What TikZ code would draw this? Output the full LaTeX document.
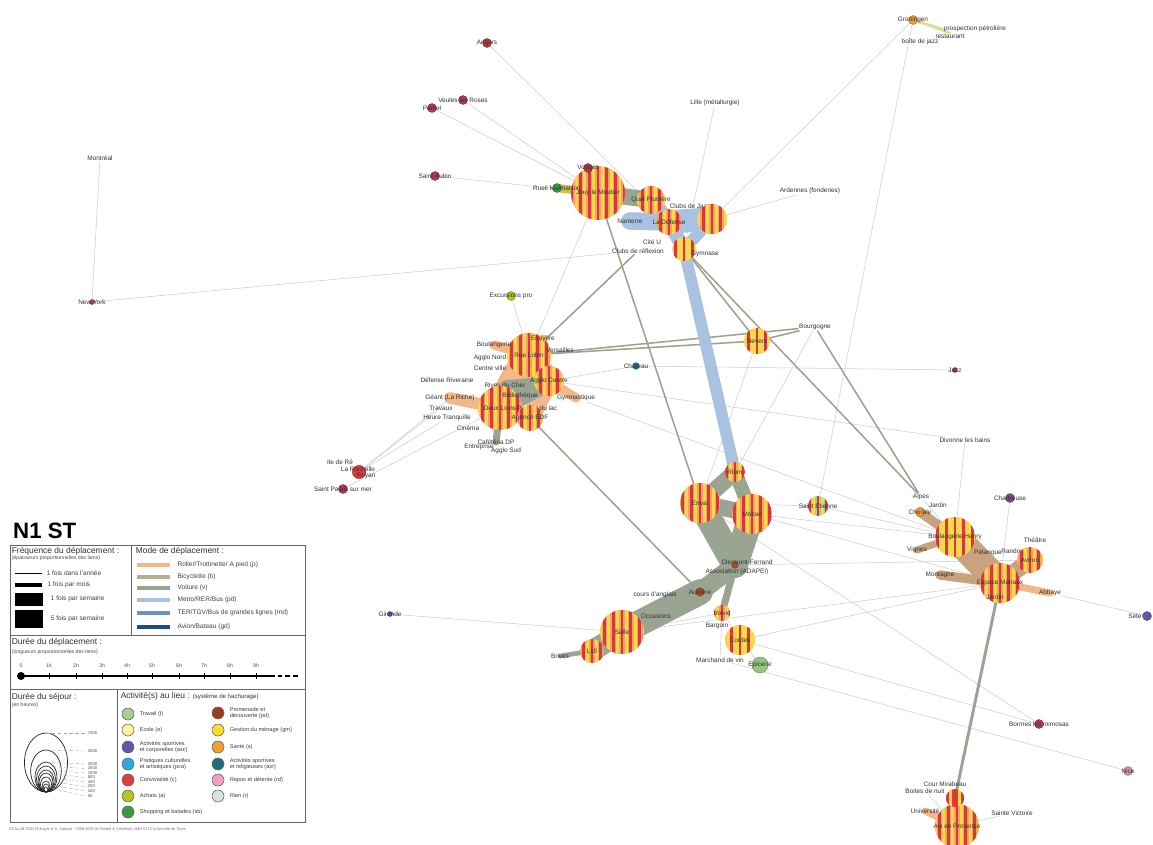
\documentclass[tikz,border=0pt]{standalone}
\usepackage{fontspec}
\setmainfont{Liberation Sans}
\usetikzlibrary{positioning,backgrounds}

% Colores
\definecolor{pied}{HTML}{F2B88A}
\definecolor{velo}{HTML}{BDAB90}
\definecolor{voiture}{HTML}{99A493}
\definecolor{metro}{HTML}{A9C2E2}
\definecolor{ter}{HTML}{6F92C6}
\definecolor{avion}{HTML}{1E4B84}
\definecolor{rayrouge}{HTML}{D9363E}
\definecolor{rayjaune}{HTML}{F5D84C}
\definecolor{rayorange}{HTML}{F0A45C}
\definecolor{brique}{HTML}{B33B4B}
\definecolor{lien}{HTML}{CDCDCD}
\definecolor{lienfort}{HTML}{9FA08E}
\definecolor{terre}{HTML}{C9A27E}
\definecolor{travail}{HTML}{A8D08D}
\definecolor{ecole}{HTML}{FFF3A0}
\definecolor{asc}{HTML}{5A5AA8}
\definecolor{pca}{HTML}{2AA8E0}
\definecolor{conv}{HTML}{E03C3C}
\definecolor{achats}{HTML}{B5C42A}
\definecolor{shop}{HTML}{3C9A3C}
\definecolor{prom}{HTML}{9A3A1E}
\definecolor{menage}{HTML}{F5E030}
\definecolor{sante}{HTML}{F0A030}
\definecolor{asr}{HTML}{1E6E78}
\definecolor{repos}{HTML}{F0A0C0}
\definecolor{rien}{HTML}{D8E4E0}

\tikzset{
  lbl/.style={font=\fontsize{5.5}{6}\selectfont, text=black!80, inner sep=0.5pt},
  leg/.style={font=\fontsize{5.6}{6.4}\selectfont, text=black!75, inner sep=0.5pt, anchor=west, align=left},
  legtit/.style={font=\fontsize{7.2}{8}\selectfont, text=black!80, inner sep=0.5pt, anchor=west},
  legsub/.style={font=\fontsize{4.4}{5}\selectfont, text=black!70, inner sep=0.5pt, anchor=west},
  spot/.style={circle, inner sep=0pt, minimum size=0.27cm, fill=#1, draw=#1!60!black, line width=0.3pt},
  spot/.default=brique,
  rayas/.style={circle, inner sep=0pt, minimum size=2*#1*0.03cm, fill=rayorange,
    path picture={
      \foreach \k in {-6,...,6}{
        \fill[rayrouge] ([xshift=\k*7.5pt-1.2pt]path picture bounding box.south) rectangle ([xshift=\k*7.5pt+1.2pt]path picture bounding box.north);
        \fill[rayjaune] ([xshift=\k*7.5pt+2.5pt]path picture bounding box.south) rectangle ([xshift=\k*7.5pt+5pt]path picture bounding box.north);
      }}},
  act/.style={circle, inner sep=0pt, minimum size=0.36cm, fill=#1, draw=black!60, line width=0.5pt},
  fino/.style={draw=lien, line width=0.45pt},
  medio/.style={draw=lienfort, line width=1.3pt},
  apie/.style={draw=pied, line width=#1, line cap=round},
  bici/.style={draw=terre, line width=#1, line cap=round},
  coche/.style={draw=voiture, line width=#1, line cap=round, line join=round},
  metrob/.style={draw=metro, line width=#1, line cap=round},
  marco/.style={draw=black!60, line width=0.6pt},
}

\begin{document}
\begin{tikzpicture}[x=0.03cm, y=-0.03cm]
  \useasboundingbox (0,0) rectangle (1153,845);

  % Nodos: nord
  \node[spot, label={[lbl]center:Angers}] (angers) at (487,43) {};
  \node[spot, label={[lbl]center:Veules les Roses}] (veules) at (463,100) {};
  \node[spot, label={[lbl]center:Pamel}] (pamel) at (432,108) {};
  \node[lbl] (lille) at (715,103) {Lille (métallurgie)};
  \node[lbl] (montreal) at (100,158) {Montréal};
  \node[spot, label={[lbl]center:Saint Aubin}] (staubin) at (435,176) {};
  \node[spot, minimum size=0.15cm, label={[lbl]center:New York}] (newyork) at (92,302) {};
  \node[spot=sante, label={[lbl]center:Groningen}] (gron) at (913,20) {};
  \node[lbl] (petrole) at (975,29) {prospection pétrolière};
  \node[lbl] (resto) at (950,36) {restaurant};
  \node[lbl] (jazzbox) at (920,42) {boîte de jazz};
  \node[lbl] (ardennes) at (810,191) {Ardennes (fonderies)};

  % Nodos: Paris
  \node[rayas=27, label={[lbl]center:Jouy le Moutier}] (tours) at (598,193) {};
  \node[spot, label={[lbl]center:Vosges}] (vosges) at (588,168) {};
  \node[spot=shop, label={[lbl]center:Rueil Malmaison}] (rueil) at (557,188) {};
  \node[rayas=14, label={[lbl]center:Quai Plumère}] (quai) at (651,200) {};
  \node[lbl] (clubsjazz) at (690,206) {Clubs de Jazz};
  \node[rayas=15] (esplanade) at (712,219) {};
  \node[rayas=13, label={[lbl]center:La Défense}] (ladef) at (669,222) {};
  \node[lbl] (nanterre) at (630,221) {Nanterre};
  \node[lbl] (cite) at (652,242) {Cité U};
  \node[rayas=12, fill=rayjaune] (gym) at (684,249) {};
  \node[lbl] (clubref) at (638,251) {Clubs de réflexion};
  \node[lbl] (gymlbl) at (705,254) {Gymnase};

  % Nodos: Tours
  \node[spot=achats, label={[lbl]center:Excursions pro}] (excursions) at (511,296) {};
  \node[rayas=22, label={[lbl]center:Rue Lobin}] (ruelobin) at (529,355) {};
  \node[lbl] (ecuyere) at (543,339) {Ecuyère};
  \node[lbl] (versailles) at (560,350) {Versailles};
  \node[lbl] (boulangerie) at (494,345) {Boulangerie};
  \node[lbl] (agglonord) at (490,358) {Agglo Nord};
  \node[lbl] (centreville) at (490,368) {Centre ville};
  \node[rayas=15, label={[lbl]center:Agglo Centre}] (agglocentre) at (549,381) {};
  \node[lbl] (defense) at (447,380) {Défense Riveraine};
  \node[lbl] (rives) at (505,385) {Rives du Cher};
  \node[lbl] (geant) at (450,398) {Géant (La Riche)};
  \node[lbl] (travaux) at (441,408) {Travaux};
  \node[lbl] (heure) at (447,418) {Heure Tranquille};
  \node[lbl] (cinema) at (468,428) {Cinéma};
  \node[rayas=22, label={[lbl]center:Deux Lions}] (deuxlions) at (500,408) {};
  \node[lbl] (biblio) at (520,396) {Bibliothèque};
  \node[lbl] (gymnastique) at (576,398) {Gymnastique};
  \node[lbl] (piscine) at (537,408) {Piscine du lac};
  \node[rayas=13, label={[lbl]center:Agence EDF}] (edf) at (530,418) {};
  \node[lbl] (cafeteria) at (496,442) {Cafétéria DP};
  \node[lbl] (entreprise) at (479,447) {Entreprise};
  \node[lbl] (agglosud) at (506,451) {Agglo Sud};

  % Nodos: ouest
  \node[spot=conv, minimum size=0.4cm] (iledere) at (359,472) {};
  \node[lbl] (ilelbl) at (340,462) {Ile de Ré};
  \node[lbl] (rochelle) at (358,469) {La Rochelle};
  \node[lbl] (royan) at (366,476) {Royan};
  \node[spot, label={[lbl]center:Saint Palais sur mer}] (stpalais) at (343,489) {};
  \node[spot=asc, minimum size=0.15cm, label={[lbl]center:Gironde}] (gironde) at (390,614) {};

  % Nodos: centre
  \node[rayas=13, fill=rayjaune, label={[lbl]center:Nevers}] (nevers) at (757,341) {};
  \node[lbl] (bourgogne) at (815,327) {Bourgogne};
  \node[spot=pca!70!black, minimum size=0.2cm, label={[lbl]center:Château}] (chateau) at (636,366) {};
  \node[spot, minimum size=0.15cm, label={[lbl]center:Jazz}] (jazzt) at (955,370) {};
  \node[lbl] (divonne) at (965,440) {Divonne les bains};
  \node[lbl] (alpes) at (921,497) {Alpes};
  \node[spot=asc!60!brique, label={[lbl]center:Chartreuse}] (chartreuse) at (1010,498) {};
  \node[rayas=10, fill=travail, label={[lbl]center:Saint Etienne}] (stetienne) at (818,506) {};

  % Nodos: Auvergne
  \node[rayas=10, label={[lbl]center:Riom}] (riom) at (735,472) {};
  \node[rayas=20, label={[lbl]center:Enval}] (enval) at (700,503) {};
  \node[rayas=20, label={[lbl]center:Mozac}] (mozac) at (752,514) {};
  \node[spot=prom!80!sante, minimum size=0.2cm] (clermont) at (735,565) {};
  \node[lbl] (clermontlbl) at (747,562) {Clermont-Ferrand};
  \node[lbl] (adapei) at (737,572) {Association (ADAPEI)};
  \node[spot=prom!80!sante, minimum size=0.25cm, label={[lbl]center:Aubière}] (aubiere) at (700,592) {};
  \node[rayas=8, label={[lbl]center:Volvic}] (volvic) at (722,613) {};
  \node[lbl] (bargoin) at (717,626) {Bargoin};
  \node[rayas=15, fill=rayjaune, label={[lbl]center:Cordes}] (cordes) at (740,640) {};
  \node[lbl] (marchand) at (720,660) {Marchand de vin};
  \node[spot=travail!80!shop, minimum size=0.48cm, label={[lbl]center:Epicerie}] (epicerie) at (760,665) {};
  \node[lbl] (anglais) at (655,595) {cours d'anglais};
  \node[rayas=22, label={[lbl]center:Salle}] (salle) at (622,632) {};
  \node[lbl] (occasions) at (656,616) {Occasions};
  \node[rayas=12, label={[lbl]center:Lidl}] (lidl) at (592,651) {};
  \node[lbl] (brives) at (560,656) {Brives};

  % Nodos: Alpes
  \node[lbl] (jardina) at (938,505) {Jardin};
  \node[spot=sante, label={[lbl]center:Chorale}] (chorale) at (920,512) {};
  \node[rayas=20, fill=rayjaune, label={[lbl]center:Boulangerie Henry}] (boulhenry) at (955,537) {};
  \node[lbl] (vignes) at (917,550) {Vignes};
  \node[lbl] (petanque) at (988,553) {Pétanque};
  \node[lbl] (randonnee) at (1018,551) {Randonnée};
  \node[lbl] (theatrelbl) at (1035,540) {Théâtre};
  \node[rayas=13, label={[lbl]center:Aviron}] (theatre) at (1030,560) {};
  \node[lbl] (montagne) at (940,575) {Montagne};
  \node[rayas=20, label={[lbl]center:Espace Malraux}] (malraux) at (1000,583) {};
  \node[lbl] (jardinb) at (995,597) {Jardin};
  \node[lbl] (abbaye) at (1050,593) {Abbaye};
  \node[spot=asc, label={[lbl, anchor=east]west:Sète}] (sete) at (1147,616) {};
  \node[spot, label={[lbl]center:Bormes les mimosas}] (bormes) at (1039,724) {};
  \node[spot=repos!80!brique, label={[lbl]center:Nice}] (nice) at (1128,771) {};

  % Nodos: Aix
  \node[rayas=22, label={[lbl]center:Aix en Provence}] (aix) at (957,826) {};
  \node[rayas=9, fill=conv] (barsud) at (955,798) {};
  \node[lbl] (mirabeau) at (945,784) {Cour Mirabeau};
  \node[lbl] (boites) at (925,791) {Boites de nuit};
  \node[lbl] (univ) at (925,811) {Université};
  \node[lbl] (stvictoire) at (1012,813) {Sainte Victoire};

  % Enlaces
  \begin{scope}[on background layer]
    \fill[white] (0,0) rectangle (1153,845);
    \foreach \a/\b in {montreal/newyork, newyork/clubref, angers/ladef, veules/tours,
        pamel/tours, staubin/tours, lille/gym, gron/esplanade, gron/stetienne,
        ardennes/esplanade, chateau/agglocentre, chateau/jazzt, agglocentre/divonne,
        stpalais/deuxlions, excursions/ruelobin, nevers/enval, bourgogne/riom,
        gironde/salle, salle/malraux, salle/volvic, volvic/epicerie, volvic/marchand,
        marchand/nice, enval/bormes, abbaye/sete, mozac/boulhenry, mozac/malraux,
        stetienne/boulhenry, clermont/theatre, aix/stvictoire, aix/boites,
        malraux/chartreuse, alpes/boulhenry, gymnastique/boulhenry, cordes/bormes,
        cordes/malraux, iledere/geant, iledere/travaux, iledere/heure, tours/ruelobin,
        divonne/boulhenry, enval/stetienne}
      \draw[fino] (\a) -- (\b);
    \foreach \a/\b in {tours/enval, gym/nevers, gym/alpes, nevers/ruelobin,
        bourgogne/ruelobin, ruelobin/clubref, edf/aubiere, nevers/bourgogne,
        bourgogne/alpes}
      \draw[medio] (\a) -- (\b);
    % Paris
    \draw[coche=14pt] (tours.center) -- (quai.center);
    \draw[apie=7pt, draw=achats!60!pied] (tours.center) -- (rueil.center);
    \draw[apie=5pt] (tours.center) -- (vosges.center);
    \draw[metrob=13pt] (quai.center) -- (ladef.center);
    \draw[metrob=15pt] (nanterre.center) -- (ladef.center);
    \draw[metrob=20pt] (ladef.center) -- (esplanade.center);
    \draw[metrob=12pt] (ladef.center) -- (gym.center);
    \draw[metrob=10pt] (esplanade.center) -- (gym.center);
    \draw[metrob=10pt, line cap=butt] (gym.center) -- (riom.center);
    \draw[apie=2pt, draw=achats!50] (gron.center) -- (petrole.west);
    \draw[apie=2pt, draw=achats!50] (gron.center) -- (resto.north);
    % Tours
    \draw[apie=26pt] (ruelobin.center) -- (deuxlions.center);
    \draw[apie=20pt] (ruelobin.center) -- (agglocentre.center);
    \draw[apie=16pt] (agglocentre.center) -- (edf.center);
    \draw[apie=10pt] (deuxlions.center) -- (geant.center);
    \draw[apie=8pt] (ruelobin.center) -- (boulangerie.center);
    \draw[apie=8pt] (agglocentre.center) -- (gymnastique.center);
    \draw[apie=8pt] (ruelobin.center) -- (ecuyere.center);
    \draw[coche=16pt] (deuxlions.center) -- (agglocentre.center);
    \draw[coche=10pt] (deuxlions.center) -- (edf.center);
    \draw[coche=8pt] (rives.center) -- (agglocentre.center);
    \draw[coche=6pt] (deuxlions.center) -- (cafeteria.center);
    % Auvergne
    \draw[coche=14pt] (riom.center) -- (enval.center);
    \draw[coche=12pt] (riom.center) -- (mozac.center);
    \draw[coche=14pt] (enval.center) -- (mozac.center);
    \draw[coche=22pt] (enval.center) -- (clermont.center);
    \draw[coche=22pt] (mozac.center) -- (clermont.center);
    \draw[coche=16pt] (clermont.center) -- (aubiere.center);
    \draw[coche=22pt] (aubiere.center) -- (salle.center);
    \draw[coche=18pt] (salle.center) -- (lidl.center);
    \draw[coche=6pt] (clermont.center) -- (volvic.center);
    \draw[coche=4pt] (lidl.center) -- (brives.center);
    % Alpes
    \draw[bici=24pt] (boulhenry.center) -- (malraux.center);
    \draw[bici=14pt] (malraux.center) -- (theatre.center);
    \draw[bici=8pt] (boulhenry.center) -- (chorale.center);
    \draw[apie=6pt] (malraux.center) -- (abbaye.center);
    \draw[bici=6pt] (boulhenry.center) -- (vignes.center);
    \draw[bici=8pt] (malraux.center) -- (montagne.center);
    \draw[coche=2.5pt] (malraux.center) -- (barsud.center);
    \draw[apie=12pt] (aix.center) -- (barsud.center);
    \draw[apie=6pt] (aix.center) -- (univ.center);
  \end{scope}

  % Leyenda
  \node[font=\fontsize{19}{20}\selectfont\bfseries, anchor=base west, inner sep=0pt] (titre) at (13,538) {N1 ST};
  \draw[marco] (10,545) rectangle (305,822);
  \draw[marco] (131,545) -- (131,635);
  \draw[marco] (10,635) -- (305,635);
  \draw[marco] (10,689) -- (305,689);
  \draw[marco] (117,689) -- (117,822);

  \node[legtit] (frectit) at (11,551) {Fréquence du déplacement :};
  \node[legsub] (frecsub) at (11,558) {(épaisseurs proportionnelles des liens)};
  \draw[line width=0.8pt] (15,573) -- (42,573) node[leg, right=3pt] (f1) {1 fois dans l'année};
  \draw[line width=2.6pt] (15,585) -- (42,585) node[leg, right=3pt] (f2) {1 fois par mois};
  \fill (15,593) rectangle (43,606);
  \node[leg] (f3) at (50,599) {1 fois par semaine};
  \fill (15,610) rectangle (43,628);
  \node[leg] (f4) at (50,619) {5 fois par semaine};

  \node[legtit] (modetit) at (135,551) {Mode de déplacement :};
  \draw[draw=pied, line width=4pt] (137,565) -- (170,565) node[leg, right=4pt] (m1) {Roller/Trottinette/ A pied (p)};
  \draw[draw=velo, line width=4pt] (137,577) -- (170,577) node[leg, right=4pt] (m2) {Bicyclette (b)};
  \draw[draw=voiture, line width=4pt] (137,588) -- (170,588) node[leg, right=4pt] (m3) {Voiture (v)};
  \draw[draw=metro, line width=4pt] (137,600) -- (170,600) node[leg, right=4pt] (m4) {Metro/RER/Bus (pd)};
  \draw[draw=ter, line width=4pt] (137,613) -- (170,613) node[leg, right=4pt] (m5) {TER/TGV/Bus de grandes lignes (md)};
  \draw[draw=avion, line width=4pt] (137,627) -- (170,627) node[leg, right=4pt] (m6) {Avion/Bateau (gd)};

  \node[legtit] (dureetit) at (11,642) {Durée du déplacement :};
  \node[legsub] (dureesub) at (11,652) {(longueurs proportionnelles des liens)};
  \fill (21,676) circle [radius=4];
  \draw[line width=1pt] (21,676) -- (270,676);
  \draw[line width=1pt, dash pattern=on 4pt off 2.5pt] (270,676) -- (298,676);
  \foreach \h/\x [count=\i] in {0/21, 1h/49, 2h/76, 3h/102, 4h/127, 5h/152, 6h/179, 7h/204, 8h/230, 9h/256}{
    \draw[line width=0.4pt] (\x,673) -- (\x,679);
    \node[legsub, anchor=center] (h\i) at (\x,666) {\h};
  }

  \node[legtit] (sejtit) at (11,697) {Durée du séjour :};
  \node[legsub] (sejsub) at (11,705) {(en heures)};
  \foreach \r/\v/\ly [count=\i] in {29.5/7400/733, 21/4000/751, 15/2000/764, 13/1500/768.5,
      11/1000/773, 9.5/800/777.5, 7.5/400/782, 5.5/200/786.5, 4/100/791, 2.5/50/796}{
    \draw[black!85, line width=0.6pt] (46,{792-\r}) ellipse [x radius={0.73*\r}, y radius=\r];
    \draw[black!35, densely dashed, line width=0.3pt] (46,{792-2*\r}) -- (85,\ly);
    \node[legsub, font=\fontsize{3.6}{4}\selectfont] (s\i) at (87,\ly) {\v};
  }

  \node[legtit] (acttit) at (120,696) {Activité(s) au lieu : {\fontsize{5.2}{6}\selectfont(système de hachurage)}};
  \foreach \c/\t/\y [count=\i] in {travail/Travail (t)/714, ecole/Ecole (e)/730,
      asc/{Activités sportives\\et corporelles (asc)}/747,
      pca/{Pratiques culturelles\\et artistiques (pca)}/764, conv/Convivialité (c)/780,
      achats/Achats (a)/796, shop/Shopping et balades (sb)/812}{
    \node[act=\c] (al\i) at (128,\y) {};
    \node[leg, font=\fontsize{4.8}{5.4}\selectfont, right=4pt of al\i] (alt\i) {\t};
  }
  \foreach \c/\t/\y [count=\i] in {prom/{Promenade et\\découverte (pd)}/713,
      menage/Gestion du ménage (gm)/730, sante/Santé (s)/747,
      asr/{Activités sportives\\et religieuses (asr)}/764, repos/Repos et détente (rd)/780,
      rien/Rien (r)/796}{
    \node[act=\c] (ar\i) at (218,\y) {};
    \node[leg, font=\fontsize{4.8}{5.4}\selectfont, right=4pt of ar\i] (art\i) {\t};
  }
  \node[font=\fontsize{3.3}{4}\selectfont, text=black!55, anchor=west, inner sep=0pt] (pie) at (9,829)
    {SCALAB 2004 (E.Bayle \& A. Aroissi) - 2008 2009 (B.Feildel \& V.Baillon) UMR 6173 Université de Tours};
\end{tikzpicture}
\end{document}
